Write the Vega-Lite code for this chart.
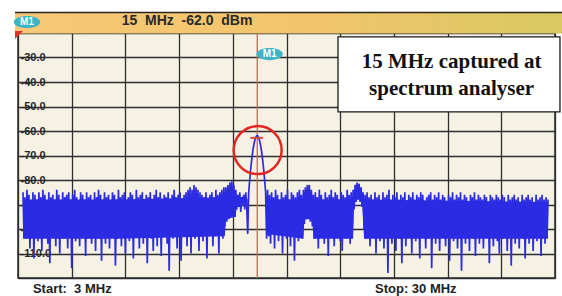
{
"$schema": "https://vega.github.io/schema/vega-lite/v6.json",
"width": 537, "height": 245,
"autosize": "none",
"padding": {"left": 18, "top": 33, "right": 7, "bottom": 18},
"background": "#ffffff",
"config": {"view": {"fill": "#f5f2e3", "stroke": "#2a2a2a", "strokeWidth": 1.5}, "font": "Liberation Sans"},
"datasets": {
"core": [
{"seg":"a","f":3.25,"p":-88,"p2":-104},{"seg":"a","f":8.0,"p":-88,"p2":-104},{"seg":"a","f":13.4,"p":-87,"p2":-103},
{"seg":"a","f":13.45,"p":-85,"p2":-96},{"seg":"a","f":13.95,"p":-85,"p2":-95},
{"seg":"a","f":14.0,"p":-87,"p2":-90},{"seg":"a","f":14.5,"p":-87,"p2":-90},{"seg":"a","f":14.55,"p":-88,"p2":-100},
{"seg":"b","f":15.5,"p":-88,"p2":-102},{"seg":"b","f":17.35,"p":-88,"p2":-104},
{"seg":"b","f":17.4,"p":-86,"p2":-96},{"seg":"b","f":17.8,"p":-86,"p2":-96},
{"seg":"b","f":17.85,"p":-88,"p2":-104},{"seg":"b","f":19.85,"p":-88,"p2":-104},
{"seg":"b","f":19.9,"p":-85,"p2":-88},{"seg":"b","f":20.3,"p":-85,"p2":-88},
{"seg":"b","f":20.4,"p":-88,"p2":-104},{"seg":"b","f":25.0,"p":-88.5,"p2":-104},{"seg":"b","f":29.65,"p":-89,"p2":-104}
],
"trace": [
{"f":3.25,"p":-85},{"f":3.3,"p":-101},{"f":3.35,"p":-87},{"f":3.4,"p":-104},{"f":3.45,"p":-84},{"f":3.5,"p":-99},{"f":3.55,"p":-86},{"f":3.6,"p":-108},{"f":3.65,"p":-89},{"f":3.7,"p":-102},
{"f":3.75,"p":-85},{"f":3.8,"p":-112},{"f":3.85,"p":-86},{"f":3.9,"p":-100},{"f":3.95,"p":-88},{"f":4.0,"p":-105},{"f":4.05,"p":-85},{"f":4.1,"p":-98},{"f":4.15,"p":-87},{"f":4.2,"p":-109},
{"f":4.25,"p":-84},{"f":4.3,"p":-103},{"f":4.35,"p":-86},{"f":4.4,"p":-100},{"f":4.45,"p":-90},{"f":4.5,"p":-106},{"f":4.55,"p":-85},{"f":4.6,"p":-114},{"f":4.65,"p":-87},{"f":4.7,"p":-101},
{"f":4.75,"p":-86},{"f":4.8,"p":-99},{"f":4.85,"p":-88},{"f":4.9,"p":-107},{"f":4.95,"p":-84},{"f":5.0,"p":-103},{"f":5.05,"p":-86},{"f":5.1,"p":-110},{"f":5.15,"p":-89},{"f":5.2,"p":-100},
{"f":5.25,"p":-85},{"f":5.3,"p":-104},{"f":5.35,"p":-87},{"f":5.4,"p":-98},{"f":5.45,"p":-86},{"f":5.5,"p":-108},{"f":5.55,"p":-85},{"f":5.6,"p":-102},{"f":5.65,"p":-88},{"f":5.7,"p":-116},
{"f":5.75,"p":-86},{"f":5.8,"p":-101},{"f":5.85,"p":-84},{"f":5.9,"p":-105},{"f":5.95,"p":-87},{"f":6.0,"p":-99},{"f":6.05,"p":-89},{"f":6.1,"p":-107},{"f":6.15,"p":-85},{"f":6.2,"p":-103},
{"f":6.25,"p":-86},{"f":6.3,"p":-100},{"f":6.35,"p":-88},{"f":6.4,"p":-111},{"f":6.45,"p":-85},{"f":6.5,"p":-104},{"f":6.55,"p":-87},{"f":6.6,"p":-98},{"f":6.65,"p":-86},{"f":6.7,"p":-106},
{"f":6.75,"p":-90},{"f":6.8,"p":-102},{"f":6.85,"p":-85},{"f":6.9,"p":-109},{"f":6.95,"p":-87},{"f":7.0,"p":-100},{"f":7.05,"p":-84},{"f":7.1,"p":-104},{"f":7.15,"p":-86},{"f":7.2,"p":-113},
{"f":7.25,"p":-88},{"f":7.3,"p":-101},{"f":7.35,"p":-85},{"f":7.4,"p":-106},{"f":7.45,"p":-87},{"f":7.5,"p":-99},{"f":7.55,"p":-86},{"f":7.6,"p":-108},{"f":7.65,"p":-89},{"f":7.7,"p":-103},
{"f":7.75,"p":-85},{"f":7.8,"p":-100},{"f":7.85,"p":-86},{"f":7.9,"p":-115},{"f":7.95,"p":-88},{"f":8.0,"p":-104},{"f":8.05,"p":-84},{"f":8.1,"p":-99},{"f":8.15,"p":-87},{"f":8.2,"p":-107},
{"f":8.25,"p":-86},{"f":8.3,"p":-102},{"f":8.35,"p":-85},{"f":8.4,"p":-110},{"f":8.45,"p":-89},{"f":8.5,"p":-100},{"f":8.55,"p":-87},{"f":8.6,"p":-105},{"f":8.65,"p":-85},{"f":8.7,"p":-98},
{"f":8.75,"p":-86},{"f":8.8,"p":-112},{"f":8.85,"p":-88},{"f":8.9,"p":-103},{"f":8.95,"p":-84},{"f":9.0,"p":-101},{"f":9.05,"p":-87},{"f":9.1,"p":-108},{"f":9.15,"p":-86},{"f":9.2,"p":-99},
{"f":9.25,"p":-85},{"f":9.3,"p":-106},{"f":9.35,"p":-90},{"f":9.4,"p":-102},{"f":9.45,"p":-86},{"f":9.5,"p":-114},{"f":9.55,"p":-87},{"f":9.6,"p":-100},{"f":9.65,"p":-85},{"f":9.7,"p":-104},
{"f":9.75,"p":-88},{"f":9.8,"p":-109},{"f":9.85,"p":-86},{"f":9.9,"p":-101},{"f":9.95,"p":-84},{"f":10.0,"p":-107},{"f":10.05,"p":-87},{"f":10.1,"p":-99},{"f":10.15,"p":-85},{"f":10.2,"p":-111},
{"f":10.25,"p":-89},{"f":10.3,"p":-103},{"f":10.35,"p":-86},{"f":10.4,"p":-100},{"f":10.45,"p":-87},{"f":10.5,"p":-106},{"f":10.55,"p":-85},{"f":10.6,"p":-117},{"f":10.65,"p":-88},{"f":10.7,"p":-102},
{"f":10.75,"p":-86},{"f":10.8,"p":-104},{"f":10.85,"p":-84},{"f":10.9,"p":-99},{"f":10.95,"p":-87},{"f":11.0,"p":-108},{"f":11.05,"p":-86},{"f":11.1,"p":-101},{"f":11.15,"p":-85},{"f":11.2,"p":-113},
{"f":11.25,"p":-88},{"f":11.3,"p":-103},{"f":11.35,"p":-86},{"f":11.4,"p":-100},{"f":11.45,"p":-85},{"f":11.5,"p":-107},{"f":11.55,"p":-84},{"f":11.6,"p":-102},{"f":11.65,"p":-83},{"f":11.7,"p":-110},
{"f":11.75,"p":-84},{"f":11.8,"p":-100},{"f":11.85,"p":-82},{"f":11.9,"p":-104},{"f":11.95,"p":-83},{"f":12.0,"p":-99},{"f":12.05,"p":-84},{"f":12.1,"p":-109},{"f":12.15,"p":-85},{"f":12.2,"p":-101},
{"f":12.25,"p":-86},{"f":12.3,"p":-105},{"f":12.35,"p":-87},{"f":12.4,"p":-100},{"f":12.45,"p":-85},{"f":12.5,"p":-112},{"f":12.55,"p":-88},{"f":12.6,"p":-102},{"f":12.65,"p":-86},{"f":12.7,"p":-98},
{"f":12.75,"p":-85},{"f":12.8,"p":-107},{"f":12.85,"p":-87},{"f":12.9,"p":-103},{"f":12.95,"p":-84},{"f":13.0,"p":-100},{"f":13.05,"p":-86},{"f":13.1,"p":-110},{"f":13.15,"p":-85},{"f":13.2,"p":-101},
{"f":13.25,"p":-84},{"f":13.3,"p":-104},{"f":13.35,"p":-83},{"f":13.4,"p":-99},
{"f":13.45,"p":-83},{"f":13.5,"p":-97},{"f":13.55,"p":-82},{"f":13.6,"p":-96},{"f":13.65,"p":-81},{"f":13.7,"p":-94},{"f":13.75,"p":-80.5},{"f":13.8,"p":-93},{"f":13.85,"p":-82},{"f":13.9,"p":-95},{"f":13.95,"p":-84},
{"f":14.0,"p":-92},{"f":14.05,"p":-86},{"f":14.1,"p":-91},{"f":14.15,"p":-85},{"f":14.2,"p":-93},{"f":14.25,"p":-87},{"f":14.3,"p":-90},{"f":14.35,"p":-86},{"f":14.4,"p":-92},{"f":14.45,"p":-85},{"f":14.5,"p":-91},
{"f":14.55,"p":-102},{"f":14.6,"p":-85},{"f":14.65,"p":-80},{"f":14.7,"p":-75.5},{"f":14.75,"p":-71.7},{"f":14.8,"p":-68.5},{"f":14.85,"p":-66},{"f":14.9,"p":-64},{"f":14.95,"p":-62.7},{"f":15.0,"p":-62},
{"f":15.05,"p":-62},{"f":15.1,"p":-62.7},{"f":15.15,"p":-64},{"f":15.2,"p":-66},{"f":15.25,"p":-68.5},{"f":15.3,"p":-71.7},{"f":15.35,"p":-75.5},{"f":15.4,"p":-80},{"f":15.45,"p":-85},{"f":15.5,"p":-104},
{"f":15.55,"p":-84},{"f":15.6,"p":-103},{"f":15.65,"p":-86},{"f":15.7,"p":-106},{"f":15.75,"p":-85},{"f":15.8,"p":-100},{"f":15.85,"p":-87},{"f":15.9,"p":-108},{"f":15.95,"p":-84},{"f":16.0,"p":-101},
{"f":16.05,"p":-86},{"f":16.1,"p":-105},{"f":16.15,"p":-88},{"f":16.2,"p":-99},{"f":16.25,"p":-85},{"f":16.3,"p":-110},{"f":16.35,"p":-87},{"f":16.4,"p":-102},{"f":16.45,"p":-86},{"f":16.5,"p":-104},
{"f":16.55,"p":-84},{"f":16.6,"p":-100},{"f":16.65,"p":-88},{"f":16.7,"p":-107},{"f":16.75,"p":-85},{"f":16.8,"p":-103},{"f":16.85,"p":-86},{"f":16.9,"p":-113},{"f":16.95,"p":-87},{"f":17.0,"p":-101},
{"f":17.05,"p":-85},{"f":17.1,"p":-105},{"f":17.15,"p":-84},{"f":17.2,"p":-99},{"f":17.25,"p":-86},{"f":17.3,"p":-104},
{"f":17.35,"p":-84},{"f":17.4,"p":-98},{"f":17.45,"p":-83},{"f":17.5,"p":-96},{"f":17.55,"p":-82},{"f":17.6,"p":-95},{"f":17.65,"p":-82},{"f":17.7,"p":-97},{"f":17.75,"p":-84},{"f":17.8,"p":-99},
{"f":17.85,"p":-86},{"f":17.9,"p":-104},{"f":17.95,"p":-85},{"f":18.0,"p":-100},{"f":18.05,"p":-87},{"f":18.1,"p":-108},{"f":18.15,"p":-84},{"f":18.2,"p":-102},{"f":18.25,"p":-86},{"f":18.3,"p":-99},
{"f":18.35,"p":-88},{"f":18.4,"p":-106},{"f":18.45,"p":-85},{"f":18.5,"p":-101},{"f":18.55,"p":-87},{"f":18.6,"p":-111},{"f":18.65,"p":-86},{"f":18.7,"p":-103},{"f":18.75,"p":-84},{"f":18.8,"p":-100},
{"f":18.85,"p":-87},{"f":18.9,"p":-107},{"f":18.95,"p":-85},{"f":19.0,"p":-102},{"f":19.05,"p":-86},{"f":19.1,"p":-98},{"f":19.15,"p":-88},{"f":19.2,"p":-105},{"f":19.25,"p":-85},{"f":19.3,"p":-109},
{"f":19.35,"p":-86},{"f":19.4,"p":-101},{"f":19.45,"p":-87},{"f":19.5,"p":-104},{"f":19.55,"p":-84},{"f":19.6,"p":-100},{"f":19.65,"p":-86},{"f":19.7,"p":-106},{"f":19.75,"p":-85},{"f":19.8,"p":-102},
{"f":19.85,"p":-84},{"f":19.9,"p":-92},{"f":19.95,"p":-82},{"f":20.0,"p":-89},{"f":20.05,"p":-81},{"f":20.1,"p":-88},{"f":20.15,"p":-81.5},{"f":20.2,"p":-89},{"f":20.25,"p":-83},{"f":20.3,"p":-91},{"f":20.35,"p":-85},{"f":20.4,"p":-100},
{"f":20.45,"p":-86},{"f":20.5,"p":-104},{"f":20.55,"p":-85},{"f":20.6,"p":-101},{"f":20.65,"p":-87},{"f":20.7,"p":-107},{"f":20.75,"p":-86},{"f":20.8,"p":-103},{"f":20.85,"p":-88},{"f":20.9,"p":-99},
{"f":20.95,"p":-85},{"f":21.0,"p":-110},{"f":21.05,"p":-87},{"f":21.1,"p":-102},{"f":21.15,"p":-86},{"f":21.2,"p":-105},{"f":21.25,"p":-89},{"f":21.3,"p":-100},{"f":21.35,"p":-85},{"f":21.4,"p":-108},
{"f":21.45,"p":-87},{"f":21.5,"p":-103},{"f":21.55,"p":-86},{"f":21.6,"p":-118},{"f":21.65,"p":-84},{"f":21.7,"p":-101},{"f":21.75,"p":-88},{"f":21.8,"p":-106},{"f":21.85,"p":-86},{"f":21.9,"p":-100},
{"f":21.95,"p":-87},{"f":22.0,"p":-109},{"f":22.05,"p":-85},{"f":22.1,"p":-102},{"f":22.15,"p":-88},{"f":22.2,"p":-104},{"f":22.25,"p":-86},{"f":22.3,"p":-114},{"f":22.35,"p":-87},{"f":22.4,"p":-101},
{"f":22.45,"p":-85},{"f":22.5,"p":-107},{"f":22.55,"p":-89},{"f":22.6,"p":-103},{"f":22.65,"p":-86},{"f":22.7,"p":-100},{"f":22.75,"p":-87},{"f":22.8,"p":-110},{"f":22.85,"p":-85},{"f":22.9,"p":-102},
{"f":22.95,"p":-88},{"f":23.0,"p":-105},{"f":23.05,"p":-86},{"f":23.1,"p":-99},{"f":23.15,"p":-87},{"f":23.2,"p":-112},{"f":23.25,"p":-85},{"f":23.3,"p":-103},{"f":23.35,"p":-86},{"f":23.4,"p":-101},
{"f":23.45,"p":-89},{"f":23.5,"p":-108},{"f":23.55,"p":-87},{"f":23.6,"p":-104},{"f":23.65,"p":-86},{"f":23.7,"p":-100},{"f":23.75,"p":-85},{"f":23.8,"p":-116},{"f":23.85,"p":-88},{"f":23.9,"p":-102},
{"f":23.95,"p":-86},{"f":24.0,"p":-106},{"f":24.05,"p":-87},{"f":24.1,"p":-101},{"f":24.15,"p":-85},{"f":24.2,"p":-109},{"f":24.25,"p":-88},{"f":24.3,"p":-103},{"f":24.35,"p":-86},{"f":24.4,"p":-100},
{"f":24.45,"p":-87},{"f":24.5,"p":-107},{"f":24.55,"p":-89},{"f":24.6,"p":-102},{"f":24.65,"p":-86},{"f":24.7,"p":-113},{"f":24.75,"p":-87},{"f":24.8,"p":-101},{"f":24.85,"p":-85},{"f":24.9,"p":-105},
{"f":24.95,"p":-88},{"f":25.0,"p":-100},{"f":25.05,"p":-86},{"f":25.1,"p":-108},{"f":25.15,"p":-87},{"f":25.2,"p":-103},{"f":25.25,"p":-85},{"f":25.3,"p":-117},{"f":25.35,"p":-88},{"f":25.4,"p":-101},
{"f":25.45,"p":-86},{"f":25.5,"p":-106},{"f":25.55,"p":-87},{"f":25.6,"p":-102},{"f":25.65,"p":-89},{"f":25.7,"p":-109},{"f":25.75,"p":-86},{"f":25.8,"p":-100},{"f":25.85,"p":-87},{"f":25.9,"p":-104},
{"f":25.95,"p":-85},{"f":26.0,"p":-111},{"f":26.05,"p":-88},{"f":26.1,"p":-102},{"f":26.15,"p":-86},{"f":26.2,"p":-106},{"f":26.25,"p":-87},{"f":26.3,"p":-101},{"f":26.35,"p":-88},{"f":26.4,"p":-108},
{"f":26.45,"p":-86},{"f":26.5,"p":-103},{"f":26.55,"p":-87},{"f":26.6,"p":-100},{"f":26.65,"p":-89},{"f":26.7,"p":-114},{"f":26.75,"p":-86},{"f":26.8,"p":-102},{"f":26.85,"p":-87},{"f":26.9,"p":-107},
{"f":26.95,"p":-88},{"f":27.0,"p":-101},{"f":27.05,"p":-86},{"f":27.1,"p":-105},{"f":27.15,"p":-87},{"f":27.2,"p":-110},{"f":27.25,"p":-88},{"f":27.3,"p":-102},{"f":27.35,"p":-86},{"f":27.4,"p":-104},
{"f":27.45,"p":-87},{"f":27.5,"p":-100},{"f":27.55,"p":-89},{"f":27.6,"p":-109},{"f":27.65,"p":-86},{"f":27.7,"p":-103},{"f":27.75,"p":-88},{"f":27.8,"p":-115},{"f":27.85,"p":-87},{"f":27.9,"p":-101},
{"f":27.95,"p":-86},{"f":28.0,"p":-106},{"f":28.05,"p":-88},{"f":28.1,"p":-102},{"f":28.15,"p":-87},{"f":28.2,"p":-108},{"f":28.25,"p":-89},{"f":28.3,"p":-100},{"f":28.35,"p":-86},{"f":28.4,"p":-104},
{"f":28.45,"p":-88},{"f":28.5,"p":-112},{"f":28.55,"p":-87},{"f":28.6,"p":-101},{"f":28.65,"p":-86},{"f":28.7,"p":-106},{"f":28.75,"p":-88},{"f":28.8,"p":-103},{"f":28.85,"p":-87},{"f":28.9,"p":-109},
{"f":28.95,"p":-89},{"f":29.0,"p":-100},{"f":29.05,"p":-86},{"f":29.1,"p":-105},{"f":29.15,"p":-88},{"f":29.2,"p":-102},{"f":29.25,"p":-87},{"f":29.3,"p":-111},{"f":29.35,"p":-86},{"f":29.4,"p":-101},
{"f":29.45,"p":-88},{"f":29.5,"p":-106},{"f":29.55,"p":-87},{"f":29.6,"p":-103},{"f":29.65,"p":-88}
]
},
"encoding": {
"x": {"field": "f", "type": "quantitative", "scale": {"domain": [3, 30], "nice": false, "zero": false},
 "axis": {"values": [3, 5.7, 8.4, 11.1, 13.8, 16.5, 19.2, 21.9, 24.6, 27.3, 30], "grid": true, "gridColor": "#2e2e2e", "gridWidth": 1.3, "labels": false, "ticks": false, "domain": false, "title": null}},
"y": {"field": "p", "type": "quantitative", "scale": {"domain": [-120, -20], "nice": false, "zero": false},
 "axis": {"values": [-20, -30, -40, -50, -60, -70, -80, -90, -100, -110, -120], "grid": true, "gridColor": "#2e2e2e", "gridWidth": 1.3, "ticks": false, "domain": false, "title": null,
  "labelAlign": "left", "labelPadding": -2, "labelFontWeight": "bold", "labelFontSize": 11, "labelColor": "#262626", "labelBaseline": "middle",
  "labelExpr": "datum.value == -20 || datum.value == -120 ? '' : '-' + format(abs(datum.value), '.1f')"}}
},
"layer": [
{"data": {"values": [{"f": 2.85, "f2": 30.4, "p": -20.2, "p2": -11.6}]},
 "mark": {"type": "rect", "clip": false, "color": {"gradient": "linear", "x1": 0, "x2": 1, "y1": 0, "y2": 0, "stops": [{"offset": 0, "color": "#f7c877"}, {"offset": 0.55, "color": "#f2c56b"}, {"offset": 1, "color": "#d8c962"}]}},
 "encoding": {"x2": {"field": "f2"}, "y2": {"field": "p2"}}},
{"data": {"values": [{"f": 2.85, "f2": 30.4, "p": -11.6}]},
 "mark": {"type": "rule", "clip": false, "color": "#2a2420", "strokeWidth": 1.5},
 "encoding": {"x2": {"field": "f2"}}},
{"data": {"values": [{"f": 15.03, "p": -20, "p2": -120}]},
 "mark": {"type": "rule", "color": "#dd5a55", "strokeWidth": 1.3},
 "encoding": {"y2": {"field": "p2"}}},
{"data": {"name": "core"},
 "mark": {"type": "area", "color": "#2b2be3", "opacity": 1},
 "encoding": {"y2": {"field": "p2"}, "detail": {"field": "seg"}}},
{"data": {"name": "trace"},
 "mark": {"type": "line", "color": "#2b2be3", "strokeWidth": 1.7}},
{"data": {"values": [{"f": 15.05, "p": -67.8}]},
 "mark": {"type": "point", "shape": "circle", "size": 2304, "filled": false, "stroke": "#e52521", "strokeWidth": 2.5, "opacity": 1}},
{"data": {"values": [{"f": 14.68, "f2": 15.32, "p": -62.8}]},
 "mark": {"type": "rule", "color": "#d9463f", "strokeWidth": 2},
 "encoding": {"x2": {"field": "f2"}}},
{"data": {"values": [{"f": 15.65, "p": -28.6, "t": "M1"}, {"f": 3.45, "p": -15.5, "t": "M1"}]},
 "mark": {"type": "point", "clip": false, "shape": "M -1 0 A 1 0.46 0 1 1 1 0 A 1 0.46 0 1 1 -1 0 Z", "size": 700, "filled": true, "color": "#3cb4c6", "opacity": 1}},
{"data": {"values": [{"f": 15.65, "p": -28.6, "t": "M1"}, {"f": 3.45, "p": -15.5, "t": "M1"}]},
 "mark": {"type": "text", "clip": false, "color": "#ffffff", "fontWeight": "bold", "fontSize": 10, "align": "center", "baseline": "middle"},
 "encoding": {"text": {"field": "t"}}},
{"data": {"values": [{"f": 11.5, "p": -15.2, "t": "15\u00a0\u00a0MHz\u00a0\u00a0-62.0\u00a0\u00a0dBm"}]},
 "mark": {"type": "text", "clip": false, "color": "#2a2a2a", "fontWeight": "bold", "fontSize": 14, "align": "center", "baseline": "middle"},
 "encoding": {"text": {"field": "t"}}},
{"data": {"values": [{"f": 3.05, "p": -20.8}]},
 "mark": {"type": "point", "clip": false, "shape": "M -1 -1 L 1 -1 L -1 1 Z", "size": 64, "filled": true, "color": "#e0302a", "opacity": 1}},
{"data": {"values": [{"f": 19.09, "f2": 30.25, "p": -21.6, "p2": -52.2}]},
 "mark": {"type": "rect", "clip": false, "fill": "#ffffff", "stroke": "#1a1a1a", "strokeWidth": 1.3},
 "encoding": {"x2": {"field": "f2"}, "y2": {"field": "p2"}}},
{"data": {"values": [{"f": 24.8, "p": -34.4, "t": "15 MHz captured at"}, {"f": 24.8, "p": -45.3, "t": "spectrum analyser"}]},
 "mark": {"type": "text", "clip": false, "font": "Liberation Serif", "fontWeight": "bold", "fontSize": 21, "color": "#111111", "align": "center", "baseline": "alphabetic"},
 "encoding": {"text": {"field": "t"}}},
{"data": {"values": [{"f": 3.75, "p": -124.3, "t": "Start:\u00a0\u00a03\u00a0MHz"}, {"f": 20.95, "p": -124.3, "t": "Stop:\u00a030\u00a0MHz"}]},
 "mark": {"type": "text", "clip": false, "color": "#222222", "fontWeight": "bold", "fontSize": 13, "align": "left", "baseline": "middle"},
 "encoding": {"text": {"field": "t"}}}
]
}
